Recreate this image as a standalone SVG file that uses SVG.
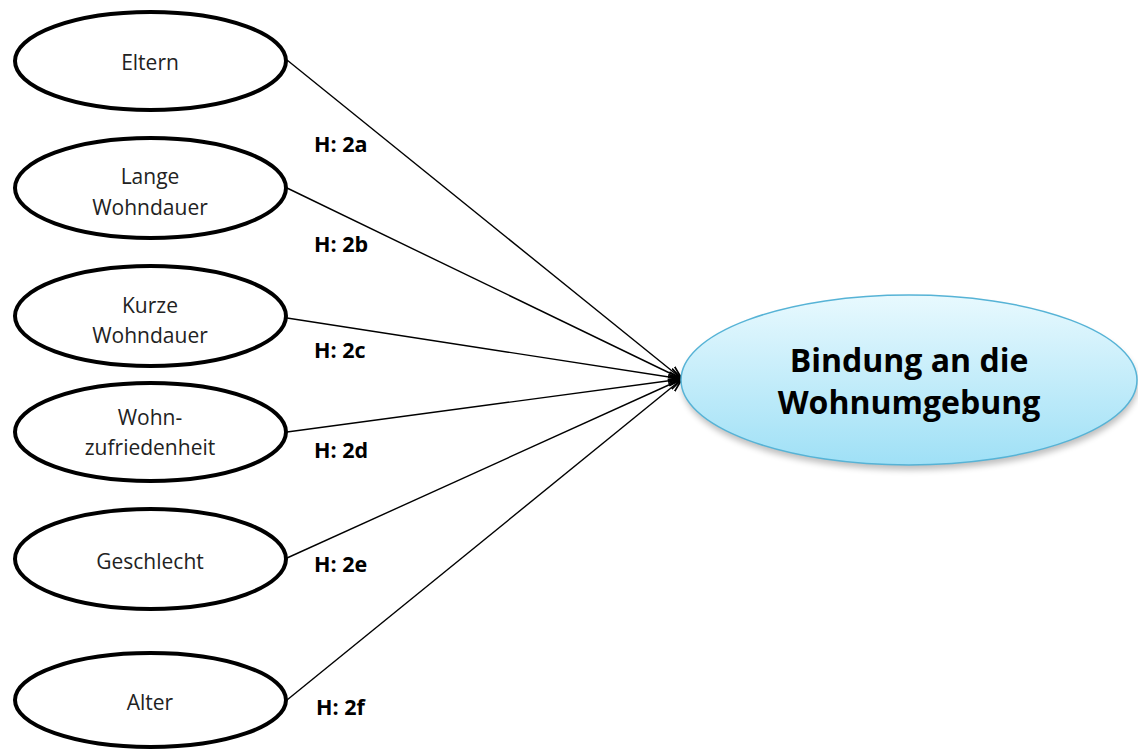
<svg xmlns="http://www.w3.org/2000/svg" width="1138" height="751" viewBox="0 0 1138 751">
<style>
.node ellipse{fill:#fff;stroke:#000;stroke-width:4}
.node text{font-family:"Open Sans","Liberation Sans",sans-serif;font-size:21px;fill:#222;text-anchor:middle}
.lbl{font-family:"Open Sans","Liberation Sans",sans-serif;font-size:21.5px;font-weight:bold;fill:#000}
.conn line{stroke:#000;stroke-width:1.4;marker-end:url(#arr)}
.big text{font-family:"Open Sans","Liberation Sans",sans-serif;font-size:32px;font-weight:bold;fill:#000;text-anchor:middle}
</style>
<defs>
<marker id="arr" viewBox="0 0 14 12" refX="13.5" refY="6" markerWidth="14" markerHeight="12" markerUnits="userSpaceOnUse" orient="auto">
<path d="M0,1 L13.5,6 L0,11" fill="none" stroke="#000" stroke-width="1.8"/>
</marker>
<linearGradient id="g" x1="0" y1="0" x2="0" y2="1">
<stop offset="0" stop-color="#e8f9fe"/>
<stop offset="1" stop-color="#9fe0f6"/>
</linearGradient>
<filter id="sh" x="-10%" y="-10%" width="120%" height="130%">
<feGaussianBlur stdDeviation="3"/>
</filter>
</defs>
<rect width="1138" height="751" fill="#fff"/>
<g class="conn">
<line x1="287" y1="60" x2="682" y2="379"/>
<line x1="287" y1="188" x2="682" y2="379"/>
<line x1="287" y1="318" x2="682" y2="379"/>
<line x1="287" y1="432" x2="682" y2="379"/>
<line x1="287" y1="558" x2="682" y2="379"/>
<line x1="287" y1="700" x2="682" y2="379"/>
</g>
<g id="labels">
<text class="lbl" x="314" y="152">H: 2a</text>
<text class="lbl" x="314" y="252">H: 2b</text>
<text class="lbl" x="314" y="358">H: 2c</text>
<text class="lbl" x="314" y="458">H: 2d</text>
<text class="lbl" x="314" y="572">H: 2e</text>
<text class="lbl" x="316" y="715">H: 2f</text>
</g>
<g id="eltern" class="node"><ellipse cx="150.5" cy="61" rx="135.5" ry="49"/><text x="150" y="70">Eltern</text></g>
<g id="lange" class="node"><ellipse cx="150.5" cy="188" rx="135.5" ry="50"/><text x="150" y="184">Lange</text><text x="150" y="215">Wohndauer</text></g>
<g id="kurze" class="node"><ellipse cx="150.5" cy="316" rx="135.5" ry="50"/><text x="150" y="313">Kurze</text><text x="150" y="343">Wohndauer</text></g>
<g id="wohn" class="node"><ellipse cx="150.5" cy="432" rx="135.5" ry="49"/><text x="150" y="425">Wohn-</text><text x="150" y="455">zufriedenheit</text></g>
<g id="geschlecht" class="node"><ellipse cx="150.5" cy="559" rx="135.5" ry="50"/><text x="150" y="569">Geschlecht</text></g>
<g id="alter" class="node"><ellipse cx="150.5" cy="700" rx="135.5" ry="47"/><text x="150" y="710">Alter</text></g>
<g id="bindung" class="big">
<ellipse cx="910" cy="385" rx="228" ry="85" fill="#000" opacity="0.25" filter="url(#sh)"/>
<ellipse cx="909" cy="380" rx="228" ry="85" fill="url(#g)" stroke="#56b3d6" stroke-width="1.5"/>
<text x="909" y="372">Bindung an die</text>
<text x="909" y="414">Wohnumgebung</text>
</g>
</svg>
